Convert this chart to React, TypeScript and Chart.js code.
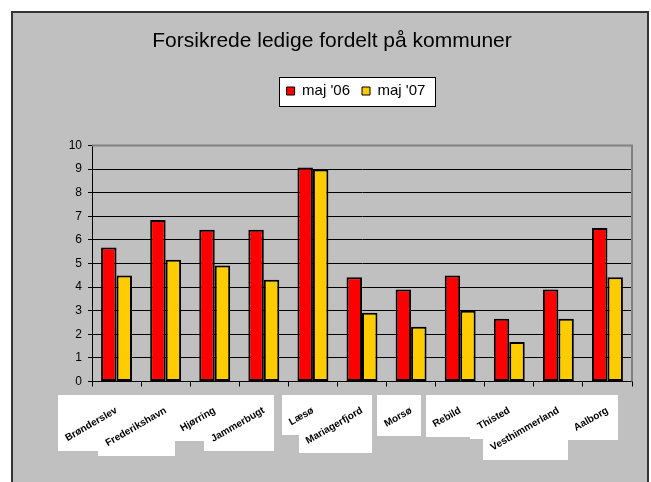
import React, { useEffect, useRef } from 'react';
import { Chart, registerables } from 'chart.js';

Chart.register(...registerables);

// ---- data ----
const categories = [
  'Brønderslev',
  'Frederikshavn',
  'Hjørring',
  'Jammerbugt',
  'Læsø',
  'Mariagerfjord',
  'Morsø',
  'Rebild',
  'Thisted',
  'Vesthimmerland',
  'Aalborg',
];
const seriesNames = ["maj '06", "maj '07"];
const maj06 = [5.68, 6.84, 6.43, 6.43, 9.07, 4.42, 3.9, 4.49, 2.66, 3.9, 6.5];
const maj07 = [4.49, 5.16, 4.92, 4.31, 8.98, 2.91, 2.32, 3.0, 1.67, 2.66, 4.42];
const yMin = 0;
const yMax = 10;
const yStep = 1;
const titleText = 'Forsikrede ledige fordelt på kommuner';

// ---- layout / style ----
const W = 651;
const H = 482;
const FONT = '"Liberation Sans", Arial, sans-serif';
const PLOT_LEFT = 92;
const PLOT_RIGHT = 632;
const PLOT_BOTTOM = 381.5;
const LEGEND_PAD = 12;
const LEGEND_FONT = 15;

const framePlugin = {
  id: 'frame',
  afterLayout(chart: any) {
    const lg = chart.legend;
    if (lg) {
      const h = lg.bottom - lg.top;
      const top = 91 - LEGEND_PAD - LEGEND_FONT / 2;
      lg.top = top;
      lg.bottom = top + h;
      const dx = 356 - (lg.left + lg.right) / 2;
      lg.left += dx;
      lg.right += dx;
    }
    const tb = chart.titleBlock;
    if (tb) {
      const dx = 332 - (tb.left + tb.right) / 2;
      tb.left += dx;
      tb.right += dx;
    }
  },
  beforeDraw(chart: any) {
    const ctx = chart.ctx;
    ctx.save();
    ctx.fillStyle = '#ffffff';
    ctx.fillRect(0, 0, W, H);
    ctx.fillStyle = '#c0c0c0';
    ctx.fillRect(12, 12, 636, H);
    ctx.strokeStyle = '#333333';
    ctx.lineWidth = 2;
    ctx.strokeRect(12, 12, 636, H + 20);

    // legend box
    const lg = chart.legend;
    if (lg && lg.legendHitBoxes && lg.legendHitBoxes.length) {
      let l = Infinity, t = Infinity, r = -Infinity, b = -Infinity;
      for (const hb of lg.legendHitBoxes) {
        l = Math.min(l, hb.left);
        t = Math.min(t, hb.top);
        r = Math.max(r, hb.left + hb.width);
        b = Math.max(b, hb.top + hb.height);
      }
      const x0 = Math.round(l - 8) + 0.5;
      const y0 = Math.round(t - 7) + 0.5;
      const x1 = Math.round(r + 10) + 0.5;
      const y1 = Math.round(b + 7) + 0.5;
      ctx.fillStyle = '#ffffff';
      ctx.fillRect(x0, y0, x1 - x0, y1 - y0);
      ctx.strokeStyle = '#000000';
      ctx.lineWidth = 1;
      ctx.strokeRect(x0, y0, x1 - x0, y1 - y0);
    }

    // white boxes behind x labels
    const xs = chart.scales.x;
    if (xs && xs.getLabelItems) {
      const items = xs.getLabelItems();
      for (const it of items) {
        const o = it.options;
        ctx.font = it.font.string;
        const w = ctx.measureText(String(it.label)).width;
        const lh = it.font.lineHeight;
        const [tx, ty] = o.translation;
        const rot = o.rotation || 0;
        const cos = Math.cos(rot), sin = Math.sin(rot);
        const yc = it.textOffset;
        const corners = [
          [-w, yc - lh / 2],
          [0, yc - lh / 2],
          [-w, yc + lh / 2],
          [0, yc + lh / 2],
        ];
        let minX = Infinity, minY = Infinity, maxX = -Infinity, maxY = -Infinity;
        for (const [cx, cy] of corners) {
          const px = tx + cx * cos - cy * sin;
          const py = ty + cx * sin + cy * cos;
          minX = Math.min(minX, px);
          maxX = Math.max(maxX, px);
          minY = Math.min(minY, py);
          maxY = Math.max(maxY, py);
        }
        ctx.fillStyle = '#ffffff';
        ctx.fillRect(
          Math.round(minX - 5),
          Math.round(minY - 10),
          Math.round(maxX - minX + 12),
          Math.round(maxY - minY + 16)
        );
      }
    }
    ctx.restore();
  },
  beforeDatasetsDraw(chart: any) {
    const { ctx, chartArea } = chart;
    ctx.save();
    ctx.strokeStyle = '#808080';
    ctx.lineWidth = 2;
    ctx.beginPath();
    ctx.moveTo(chartArea.left, chartArea.top);
    ctx.lineTo(chartArea.right, chartArea.top);
    ctx.lineTo(chartArea.right, chartArea.bottom);
    ctx.stroke();
    ctx.restore();
  },
};

export default function App() {
  const ref = useRef<HTMLCanvasElement>(null);

  useEffect(() => {
    if (!ref.current) return;
    Chart.defaults.font.family = FONT;
    const chart = new Chart(ref.current, {
      type: 'bar',
      data: {
        labels: categories,
        datasets: [
          {
            label: seriesNames[0],
            data: maj06,
            backgroundColor: '#ff0000',
            borderColor: '#000000',
            borderWidth: 2,
            borderSkipped: false,
            categoryPercentage: 0.63,
            barPercentage: 1,
          },
          {
            label: seriesNames[1],
            data: maj07,
            backgroundColor: '#ffcc00',
            borderColor: '#000000',
            borderWidth: 2,
            borderSkipped: false,
            categoryPercentage: 0.63,
            barPercentage: 1,
          },
        ],
      },
      options: {
        responsive: false,
        animation: false,
        devicePixelRatio: 1,
        layout: { padding: { left: 0, right: W - PLOT_RIGHT, top: 0, bottom: 0 } },
        plugins: {
          title: {
            display: true,
            text: titleText,
            color: '#000000',
            font: { size: 21, weight: 'normal', family: FONT },
            padding: { top: 29, bottom: 54.3 },
          },
          legend: {
            display: true,
            position: 'top',
            labels: {
              color: '#000000',
              font: { size: LEGEND_FONT, family: FONT },
              boxWidth: 8,
              boxHeight: 8,
              padding: LEGEND_PAD,
              generateLabels: (c: any) =>
                Chart.defaults.plugins.legend.labels
                  .generateLabels(c)
                  .map((l: any) => ({ ...l, lineWidth: 1 })),
            },
          },
          tooltip: { enabled: false },
        },
        scales: {
          x: {
            grid: {
              display: true,
              drawOnChartArea: false,
              drawTicks: true,
              tickLength: 5,
              color: '#000000',
              offset: true,
            },
            border: { display: true, color: '#000000', width: 1 },
            ticks: {
              color: '#000000',
              font: { size: 10, weight: 'bold', family: FONT },
              minRotation: 30,
              maxRotation: 30,
              autoSkip: false,
              padding: 18,
            },
            afterFit: (s: any) => {
              s.height = H - PLOT_BOTTOM;
            },
          },
          y: {
            min: yMin,
            max: yMax,
            grid: {
              color: (c: any) => (c.tick && c.tick.value === yMax ? 'rgba(0,0,0,0)' : '#000000'),
              tickColor: '#000000',
              tickLength: 4,
              lineWidth: 1,
            },
            border: { display: true, color: '#000000', width: 1 },
            ticks: {
              stepSize: yStep,
              color: '#000000',
              font: { size: 12, family: FONT },
              padding: 6,
            },
            afterFit: (s: any) => {
              s.width = PLOT_LEFT;
            },
          },
        },
      },
      plugins: [framePlugin],
    });
    return () => chart.destroy();
  }, []);

  return (
    <div style={{ position: 'absolute', left: 0, top: 0, width: W, height: H }}>
      <canvas ref={ref} width={W} height={H} style={{ display: 'block', width: W, height: H }} />
    </div>
  );
}
